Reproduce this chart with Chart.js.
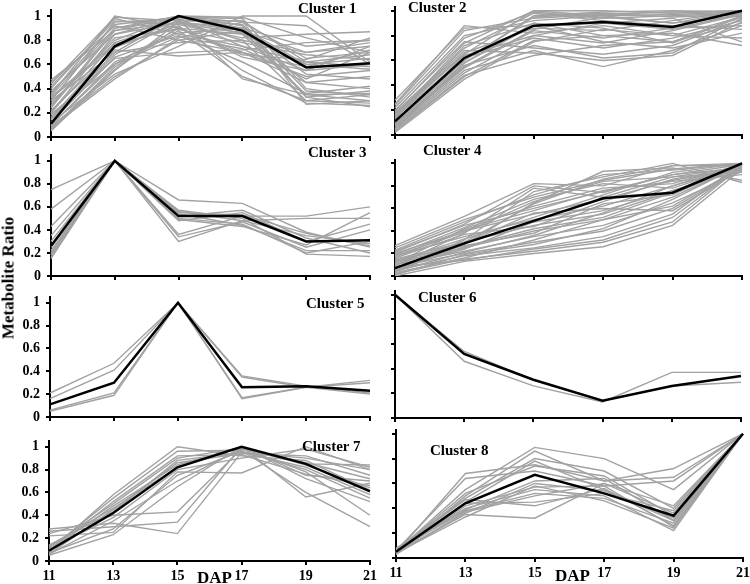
<!DOCTYPE html>
<html>
<head>
<meta charset="utf-8">
<script src="https://cdn.jsdelivr.net/npm/chart.js@4.4.1/dist/chart.umd.min.js"></script>
<style>
  body { margin: 0; background: #fff; }
  #wrap { position: relative; width: 750px; height: 584px; overflow: hidden; font-family: "Liberation Serif", "Times New Roman", serif; font-weight: bold; color: #000; }
  #wrap canvas { position: absolute; }
  .lbl { position: absolute; white-space: nowrap; line-height: 1; }
</style>
</head>
<body>
<div id="wrap"></div>
<script>
// x categories (days after pollination) and y ticks
const dap = ["11", "13", "15", "17", "19", "21"];
const yTicks = [0, 0.2, 0.4, 0.6, 0.8, 1];

// Cluster 1
const cluster1Mean = [0.11, 0.75, 1.0, 0.88, 0.575, 0.61];
const cluster1Lines = [
  [0.05, 0.55, 0.95, 0.80, 0.30, 0.35],
  [0.10, 0.60, 0.90, 0.85, 0.35, 0.30],
  [0.15, 0.70, 1.00, 0.95, 0.65, 0.70],
  [0.20, 0.85, 0.95, 0.90, 0.75, 0.80],
  [0.25, 0.90, 1.00, 0.85, 0.60, 0.65],
  [0.30, 0.95, 0.98, 0.75, 0.55, 0.60],
  [0.35, 1.00, 0.90, 0.70, 0.50, 0.55],
  [0.40, 0.98, 0.85, 0.75, 0.62, 0.68],
  [0.45, 0.92, 0.80, 0.70, 0.45, 0.40],
  [0.47, 0.88, 0.95, 0.88, 0.70, 0.75],
  [0.08, 0.48, 0.82, 0.95, 0.92, 0.60],
  [0.12, 0.52, 0.75, 1.00, 1.00, 0.62],
  [0.18, 0.65, 0.70, 0.72, 0.78, 0.80],
  [0.22, 0.72, 0.67, 0.70, 0.58, 0.72],
  [0.28, 0.80, 1.00, 0.92, 0.33, 0.38],
  [0.32, 0.75, 0.92, 0.55, 0.28, 0.26],
  [0.06, 0.58, 0.88, 0.50, 0.30, 0.28],
  [0.14, 0.68, 0.97, 0.48, 0.35, 0.36],
  [0.38, 0.85, 0.99, 0.98, 0.40, 0.33],
  [0.42, 0.96, 0.93, 0.82, 0.85, 0.87],
  [0.10, 0.62, 0.86, 0.90, 0.52, 0.48],
  [0.20, 0.78, 0.96, 0.96, 0.62, 0.58],
  [0.26, 0.82, 0.89, 0.78, 0.68, 0.64],
  [0.16, 0.74, 0.94, 0.86, 0.45, 0.50],
  [0.34, 0.90, 0.97, 0.93, 0.38, 0.35],
  [0.07, 0.56, 0.91, 0.66, 0.55, 0.75],
  [0.30, 0.70, 0.78, 0.80, 0.70, 0.78],
  [0.44, 0.99, 0.96, 0.96, 0.27, 0.30],
  [0.24, 0.88, 1.00, 0.99, 0.82, 0.70],
  [0.12, 0.66, 0.84, 0.62, 0.36, 0.42],
  [0.36, 0.93, 0.99, 0.90, 0.60, 0.56],
  [0.09, 0.50, 0.80, 0.88, 0.33, 0.25],
  [0.19, 0.60, 0.83, 0.73, 0.48, 0.70],
  [0.33, 0.77, 0.90, 0.68, 0.64, 0.82],
];

// Cluster 2
const cluster2Mean = [0.11, 0.62, 0.88, 0.91, 0.87, 1.0];
const cluster2Lines = [
  [0.02, 0.45, 0.75, 0.85, 0.80, 0.95],
  [0.05, 0.50, 0.80, 0.90, 0.85, 0.98],
  [0.08, 0.55, 0.85, 0.95, 0.90, 1.00],
  [0.10, 0.58, 0.90, 0.80, 0.75, 0.90],
  [0.12, 0.60, 0.95, 0.98, 0.95, 0.97],
  [0.15, 0.65, 1.00, 1.00, 0.98, 1.00],
  [0.18, 0.70, 0.98, 0.92, 0.88, 0.85],
  [0.20, 0.75, 0.70, 0.65, 0.72, 0.93],
  [0.25, 0.88, 0.82, 0.88, 0.80, 0.78],
  [0.28, 0.86, 0.88, 0.75, 0.70, 0.82],
  [0.22, 0.80, 0.92, 0.96, 0.97, 0.99],
  [0.04, 0.48, 0.64, 0.72, 0.75, 0.96],
  [0.06, 0.52, 0.68, 0.55, 0.68, 0.88],
  [0.09, 0.56, 0.72, 0.62, 0.66, 0.94],
  [0.14, 0.62, 0.78, 0.70, 0.78, 0.92],
  [0.16, 0.66, 0.86, 0.84, 0.92, 1.00],
  [0.11, 0.60, 0.96, 0.99, 1.00, 0.99],
  [0.03, 0.47, 0.76, 0.80, 0.82, 0.72],
  [0.07, 0.54, 0.84, 0.78, 0.86, 0.88],
  [0.13, 0.72, 0.90, 0.86, 0.74, 0.95],
  [0.19, 0.78, 0.99, 0.94, 0.96, 0.98],
  [0.24, 0.84, 0.94, 0.97, 0.99, 1.00],
  [0.17, 0.68, 0.66, 0.60, 0.64, 0.91],
  [0.10, 0.64, 0.80, 0.74, 0.84, 0.97],
  [0.05, 0.58, 0.88, 0.90, 0.94, 0.75],
  [0.15, 0.74, 1.00, 0.96, 0.90, 0.96],
];

// Cluster 3
const cluster3Mean = [0.26, 1.0, 0.52, 0.52, 0.30, 0.31];
const cluster3Lines = [
  [0.75, 1, 0.56, 0.48, 0.35, 0.28],
  [0.58, 1, 0.66, 0.63, 0.38, 0.25],
  [0.43, 1, 0.50, 0.45, 0.20, 0.30],
  [0.35, 1, 0.36, 0.52, 0.52, 0.60],
  [0.30, 1, 0.48, 0.55, 0.30, 0.45],
  [0.22, 1, 0.54, 0.44, 0.22, 0.22],
  [0.20, 1, 0.30, 0.48, 0.50, 0.50],
  [0.18, 1, 0.52, 0.57, 0.33, 0.20],
  [0.15, 1, 0.34, 0.47, 0.25, 0.40],
  [0.25, 1, 0.57, 0.50, 0.19, 0.17],
  [0.16, 1, 0.49, 0.43, 0.27, 0.55],
  [0.19, 1, 0.55, 0.53, 0.37, 0.26],
];

// Cluster 4
const cluster4Mean = [0.07, 0.29, 0.49, 0.69, 0.74, 1.0];
const cluster4Lines = [
  [0.00, 0.13, 0.20, 0.26, 0.45, 0.95],
  [0.02, 0.15, 0.22, 0.30, 0.48, 0.98],
  [0.05, 0.18, 0.25, 0.35, 0.55, 1.00],
  [0.08, 0.20, 0.30, 0.40, 0.60, 0.96],
  [0.10, 0.22, 0.35, 0.45, 0.65, 0.93],
  [0.12, 0.25, 0.40, 0.50, 0.70, 0.99],
  [0.15, 0.30, 0.45, 0.55, 0.75, 1.00],
  [0.18, 0.35, 0.50, 0.62, 0.80, 0.97],
  [0.20, 0.40, 0.55, 0.68, 0.85, 0.95],
  [0.22, 0.45, 0.60, 0.75, 0.90, 0.99],
  [0.25, 0.50, 0.70, 0.85, 0.95, 1.00],
  [0.27, 0.53, 0.82, 0.80, 0.98, 0.98],
  [0.04, 0.28, 0.65, 0.93, 0.96, 0.85],
  [0.06, 0.32, 0.75, 0.88, 1.00, 0.83],
  [0.09, 0.38, 0.78, 0.70, 0.88, 0.92],
  [0.11, 0.42, 0.62, 0.78, 0.82, 0.99],
  [0.14, 0.27, 0.38, 0.64, 0.72, 1.00],
  [0.03, 0.16, 0.32, 0.50, 0.62, 0.97],
  [0.07, 0.24, 0.48, 0.58, 0.76, 0.94],
  [0.13, 0.33, 0.52, 0.72, 0.92, 1.00],
  [0.16, 0.37, 0.44, 0.66, 0.86, 0.96],
  [0.19, 0.43, 0.68, 0.82, 0.78, 0.98],
  [0.01, 0.19, 0.28, 0.42, 0.68, 0.99],
  [0.10, 0.29, 0.56, 0.60, 0.58, 0.95],
  [0.23, 0.48, 0.72, 0.90, 0.94, 1.00],
  [0.05, 0.26, 0.42, 0.52, 0.74, 0.97],
  [0.17, 0.41, 0.58, 0.76, 0.84, 0.90],
  [0.08, 0.14, 0.24, 0.32, 0.52, 0.98],
  [0.12, 0.30, 0.64, 0.86, 0.98, 1.00],
  [0.21, 0.46, 0.80, 0.74, 0.90, 0.96],
  [0.04, 0.21, 0.36, 0.56, 0.80, 0.99],
  [0.18, 0.39, 0.66, 0.84, 0.88, 0.97],
];

// Cluster 5
const cluster5Mean = [0.11, 0.30, 1.0, 0.26, 0.27, 0.23];
const cluster5Lines = [
  [0.21, 0.47, 1, 0.35, 0.26, 0.20],
  [0.16, 0.41, 1, 0.36, 0.27, 0.21],
  [0.06, 0.21, 1, 0.17, 0.26, 0.32],
  [0.05, 0.19, 1, 0.16, 0.26, 0.30],
];

// Cluster 6
const cluster6Mean = [1.0, 0.52, 0.31, 0.14, 0.26, 0.34];
const cluster6Lines = [
  [1, 0.54, 0.31, 0.14, 0.26, 0.29],
  [1, 0.46, 0.26, 0.13, 0.37, 0.37],
];

// Cluster 7
const cluster7Mean = [0.09, 0.42, 0.82, 1.0, 0.85, 0.61];
const cluster7Lines = [
  [0.28, 0.33, 0.24, 0.95, 0.90, 0.80],
  [0.26, 0.30, 0.34, 1.00, 0.75, 0.70],
  [0.24, 0.40, 0.43, 0.98, 0.85, 0.84],
  [0.22, 0.25, 0.78, 0.77, 1.00, 0.80],
  [0.05, 0.23, 0.65, 1.00, 0.56, 0.68],
  [0.07, 0.28, 0.75, 0.96, 0.80, 0.55],
  [0.08, 0.58, 1.00, 0.92, 0.88, 0.62],
  [0.10, 0.55, 0.96, 0.97, 0.60, 0.30],
  [0.12, 0.50, 0.90, 0.99, 0.78, 0.40],
  [0.06, 0.45, 0.86, 0.94, 0.92, 0.75],
  [0.09, 0.48, 0.84, 1.00, 0.72, 0.52],
  [0.11, 0.38, 0.80, 0.90, 0.98, 0.82],
  [0.14, 0.43, 0.88, 0.95, 0.82, 0.58],
  [0.08, 0.52, 0.92, 0.93, 0.76, 0.66],
  [0.06, 0.35, 0.70, 0.98, 0.86, 0.72],
  [0.13, 0.46, 0.82, 1.00, 0.84, 0.64],
];

// Cluster 8
const cluster8Mean = [0.05, 0.44, 0.67, 0.52, 0.34, 1.0];
const cluster8Lines = [
  [0.04, 0.68, 0.75, 0.62, 0.72, 1],
  [0.06, 0.64, 0.70, 0.58, 0.62, 1],
  [0.05, 0.55, 0.89, 0.80, 0.55, 1],
  [0.03, 0.50, 0.86, 0.62, 0.65, 1],
  [0.07, 0.48, 0.80, 0.70, 0.40, 1],
  [0.05, 0.45, 0.78, 0.55, 0.30, 1],
  [0.04, 0.42, 0.57, 0.58, 0.25, 1],
  [0.08, 0.40, 0.55, 0.50, 0.22, 1],
  [0.06, 0.38, 0.52, 0.48, 0.28, 1],
  [0.03, 0.36, 0.60, 0.54, 0.32, 1],
  [0.05, 0.35, 0.32, 0.60, 0.36, 1],
  [0.04, 0.44, 0.45, 0.52, 0.38, 1],
  [0.06, 0.47, 0.42, 0.56, 0.26, 1],
  [0.05, 0.52, 0.74, 0.66, 0.34, 1],
  [0.07, 0.39, 0.62, 0.64, 0.30, 1],
  [0.04, 0.33, 0.58, 0.46, 0.24, 1],
  [0.03, 0.37, 0.50, 0.60, 0.42, 1],
];

const clusterNames = ["Cluster 1", "Cluster 2", "Cluster 3", "Cluster 4", "Cluster 5", "Cluster 6", "Cluster 7", "Cluster 8"];
const clusterMeans = [cluster1Mean, cluster2Mean, cluster3Mean, cluster4Mean, cluster5Mean, cluster6Mean, cluster7Mean, cluster8Mean];
const clusterLines = [cluster1Lines, cluster2Lines, cluster3Lines, cluster4Lines, cluster5Lines, cluster6Lines, cluster7Lines, cluster8Lines];

// panel boxes: left/right edges, pixel of y=0 and y=1, axis max, label spot
const panels = [
  { l: 51, r: 370, y0: 137, y1: 16, ymax: 1.05, lx: 298, ly: 1 },
  { l: 395, r: 742, y0: 135, y1: 11, ymax: 1.03, lx: 408, ly: 0 },
  { l: 51, r: 370, y0: 276, y1: 161, ymax: 1.05, lx: 308, ly: 145 },
  { l: 395, r: 742, y0: 276, y1: 163, ymax: 1.03, lx: 423, ly: 143 },
  { l: 50, r: 370, y0: 417, y1: 303, ymax: 1.05, lx: 306, ly: 296 },
  { l: 395, r: 741, y0: 418, y1: 295, ymax: 1.03, lx: 418, ly: 290 },
  { l: 49, r: 370, y0: 561, y1: 447, ymax: 1.05, lx: 302, ly: 439 },
  { l: 396, r: 743, y0: 558, y1: 434, ymax: 1.03, lx: 430, ly: 443 },
];

const GRAY = "#a2a2a2";
const FONT = "'Liberation Serif', 'Times New Roman', serif";
const wrap = document.getElementById("wrap");

function addLabel(text, left, top, size, extra) {
  const d = document.createElement("div");
  d.className = "lbl";
  d.textContent = text;
  d.style.left = left + "px";
  d.style.top = top + "px";
  d.style.fontSize = size + "px";
  if (extra) Object.assign(d.style, extra);
  wrap.appendChild(d);
  return d;
}

panels.forEach((p, i) => {
  const isLeft = i % 2 === 0;
  const isBottom = i >= 6;
  const unit = p.y0 - p.y1;
  const top = p.y1 - (p.ymax - 1) * unit;

  const canvas = document.createElement("canvas");
  canvas.width = p.r - p.l + 60;
  canvas.height = Math.round(p.y0 - top + 45);
  canvas.style.left = p.l - 50 + "px";
  canvas.style.top = top - 15 + "px";
  wrap.appendChild(canvas);

  const axisGrid = { drawOnChartArea: false, drawTicks: true, tickLength: 4, color: "#000", lineWidth: 2 };
  const tickFont = { family: FONT, weight: "bold", size: 14 };

  new Chart(canvas.getContext("2d"), {
    type: "line",
    data: {
      labels: dap,
      datasets: [
        { data: clusterMeans[i], borderColor: "#000", borderWidth: 2.5 },
        ...clusterLines[i].map((d) => ({ data: d, borderColor: GRAY, borderWidth: 1.4 })),
      ],
    },
    options: {
      responsive: false,
      animation: false,
      events: [],
      layout: { padding: { top: 15, right: 10, left: 0, bottom: 0 } },
      plugins: { legend: { display: false }, tooltip: { enabled: false } },
      elements: { point: { radius: 0 }, line: { tension: 0 } },
      scales: {
        x: {
          type: "category",
          offset: false,
          grid: { ...axisGrid, offset: false },
          border: { color: "#000", width: 2 },
          ticks: { display: isBottom, color: "#000", font: tickFont, padding: 3, maxRotation: 0, autoSkip: false },
          afterFit: (s) => { s.height = 30; },
        },
        y: {
          min: 0,
          max: p.ymax,
          afterBuildTicks: (s) => { s.ticks = yTicks.map((v) => ({ value: v })); },
          grid: axisGrid,
          border: { color: "#000", width: 2 },
          ticks: { display: isLeft, color: "#000", font: tickFont, padding: 6, callback: (v) => String(v) },
          afterFit: (s) => { s.width = 50; },
        },
      },
    },
  });

  addLabel(clusterNames[i], p.lx, p.ly, 15);
});

// axis titles
addLabel("DAP", 197, 569, 17);
addLabel("DAP", 555, 567, 17);
addLabel("Metabolite Ratio", 8, 278, 17, { transform: "translate(-50%, -50%) rotate(-90deg)" });
</script>
</body>
</html>
